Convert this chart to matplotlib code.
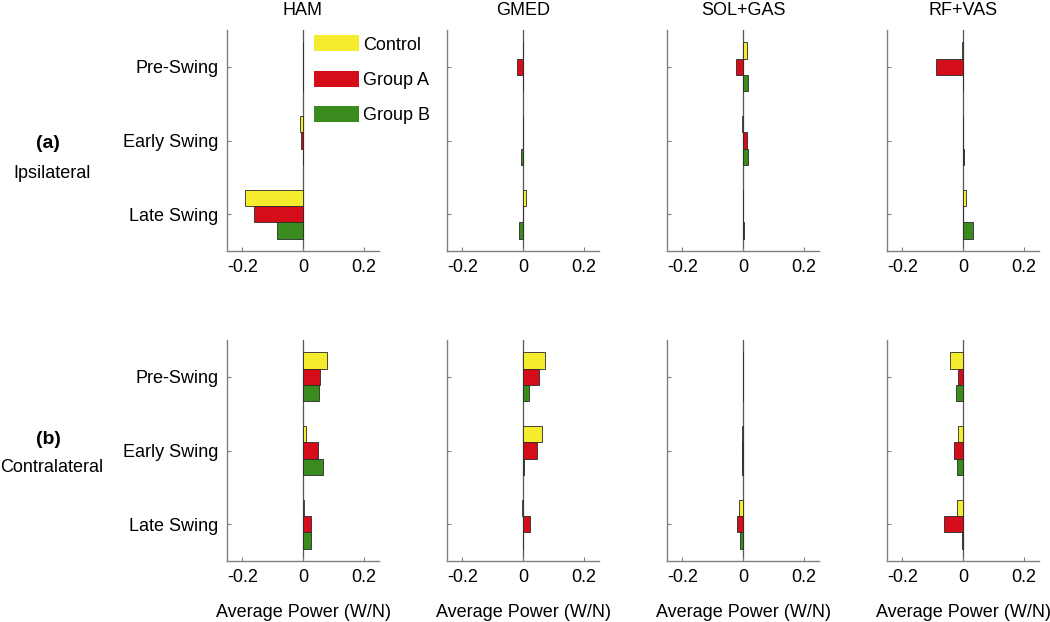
import numpy as np
import matplotlib
matplotlib.use("Agg")
import matplotlib.pyplot as plt
from matplotlib.patches import Patch

plt.rcParams['font.family'] = ['Liberation Sans', 'DejaVu Sans']

phases = ['Pre-Swing', 'Early Swing', 'Late Swing']
muscles = ['HAM', 'GMED', 'SOL+GAS', 'RF+VAS']
groups = ['Control', 'Group A', 'Group B']
row_tags = ['(a)', '(b)']
row_names = ['Ipsilateral', 'Contralateral']

# values per muscle: rows = phase, cols = Control / Group A / Group B
ipsi_ham = [[0.001, 0.0, 0.001], [-0.010, -0.005, 0.001], [-0.190, -0.162, -0.084]]
ipsi_gmed = [[0.0, -0.019, 0.0], [0.0, 0.0, -0.006], [0.011, 0.0, -0.012]]
ipsi_solgas = [[0.014, -0.023, 0.015], [-0.002, 0.013, 0.016], [-0.001, 0.001, 0.002]]
ipsi_rfvas = [[-0.002, -0.089, 0.0], [0.0, 0.0, 0.004], [0.009, 0.0, 0.034]]

contra_ham = [[0.080, 0.057, 0.052], [0.011, 0.049, 0.066], [0.004, 0.025, 0.026]]
contra_gmed = [[0.073, 0.052, 0.020], [0.061, 0.046, 0.003], [-0.004, 0.022, -0.001]]
contra_solgas = [[-0.001, -0.001, -0.001], [-0.003, -0.003, -0.003], [-0.012, -0.019, -0.010]]
contra_rfvas = [[-0.044, -0.015, -0.023], [-0.016, -0.031, -0.021], [-0.020, -0.062, -0.002]]

data = [[ipsi_ham, ipsi_gmed, ipsi_solgas, ipsi_rfvas],
        [contra_ham, contra_gmed, contra_solgas, contra_rfvas]]

colors = ['#f4ec2c', '#d50d1b', '#3a8b1d']
spine_col = '#808080'
fs = 13

W, H = 1050, 622
fig = plt.figure(figsize=(W / 100, H / 100), dpi=100)

ax_left = [227, 447, 667, 887]
ax_w = 152
ax_top = [30, 340]
ax_h = 221

y = np.arange(1, len(phases) + 1)
bh = 0.222
offsets = [-bh, 0, bh]

axes = []
for r in range(2):
    for c in range(4):
        ax = fig.add_axes([ax_left[c] / W, 1 - (ax_top[r] + ax_h) / H, ax_w / W, ax_h / H])
        vals = np.array(data[r][c])
        for g in range(3):
            ax.barh(y + offsets[g], vals[:, g], height=bh, color=colors[g],
                    edgecolor='#2a2a2a', linewidth=0.6, zorder=2)
        ax.axvline(0, color='#555555', lw=0.9, zorder=1)
        ax.set_xlim(-0.25, 0.25)
        ax.set_ylim(3.5, 0.5)
        ax.set_xticks([-0.2, 0, 0.2])
        ax.set_xticklabels(['-0.2', '0', '0.2'])
        ax.set_yticks(y)
        if c == 0:
            ax.set_yticklabels(phases)
        else:
            ax.set_yticklabels([])
        for s in ['top', 'right']:
            ax.spines[s].set_visible(False)
        for s in ['left', 'bottom']:
            ax.spines[s].set_color(spine_col)
            ax.spines[s].set_linewidth(1.0)
        ax.tick_params(direction='in', length=3, color=spine_col, labelsize=fs, pad=6)
        if r == 0:
            ax.set_title(muscles[c], fontsize=fs, pad=11)
        else:
            ax.set_xlabel('Average Power (W/N)', fontsize=fs, labelpad=13)
        axes.append(ax)

handles = [Patch(facecolor=colors[i], edgecolor='none') for i in range(3)]
axes[0].legend(handles, groups, loc='upper left', bbox_to_anchor=(0.50, 1.025),
               frameon=False, fontsize=fs, handlelength=2.5, handleheight=1.0,
               labelspacing=0.95, handletextpad=0.25, borderaxespad=0.2)

fig.text(48 / W, 1 - 143 / H, row_tags[0], fontsize=fs + 1, fontweight='bold', ha='center', va='center')
fig.text(52 / W, 1 - 173 / H, row_names[0], fontsize=fs, ha='center', va='center')
fig.text(48 / W, 1 - 440 / H, row_tags[1], fontsize=fs + 1, fontweight='bold', ha='center', va='center')
fig.text(52 / W, 1 - 467 / H, row_names[1], fontsize=fs, ha='center', va='center')

fig.savefig('out.png', dpi=100)
